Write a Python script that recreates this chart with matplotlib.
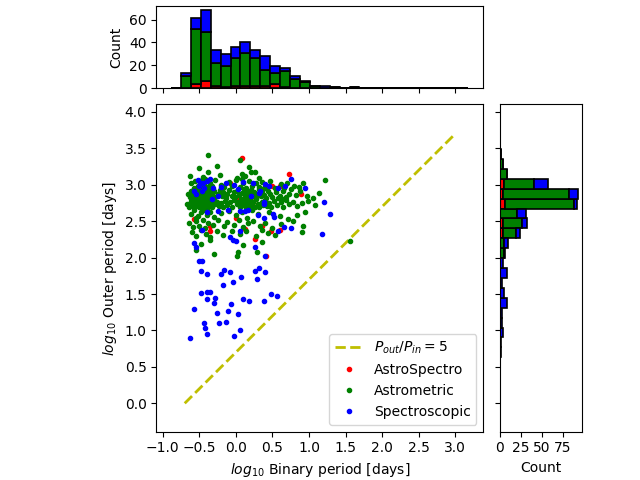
import numpy as np
import matplotlib
matplotlib.use('Agg')
import matplotlib.pyplot as plt

# scatter points (log10 P_in, log10 P_out)
astrospectro = [(0.08, 3.37), (0.73, 3.15), (0.50, 2.98), (0.60, 2.99), (0.89, 2.88), (-0.08, 3.03),
                (0.01, 2.79), (0.23, 2.76), (-0.58, 2.53), (-0.35, 2.43), (-0.35, 2.36), (0.12, 2.39),
                (0.35, 2.44), (0.48, 2.36), (0.60, 2.38), (0.26, 2.25), (0.41, 2.02), (-0.42, 2.68),
                (-0.55, 2.72), (-0.50, 2.85), (-0.45, 2.92), (0.15, 2.88), (-0.30, 2.75), (0.00, 2.55)]

astrometric = [
    (-0.38, 3.41), (0.06, 3.34), (-0.26, 3.26), (-0.50, 3.23), (0.18, 3.24),
    (-0.38, 3.18), (-0.22, 3.14), (0.20, 3.18), (0.09, 3.15), (0.02, 3.10), (-0.63, 3.12), (0.26, 3.17),
    (-0.45, 3.11), (0.13, 3.12), (0.32, 3.10),
    (-0.62, 3.02), (-0.56, 3.05), (-0.52, 2.98), (-0.47, 3.07), (-0.44, 3.00), (-0.40, 2.97), (-0.36, 3.03),
    (-0.33, 2.99), (-0.28, 3.06), (-0.20, 3.00), (-0.16, 2.97), (-0.10, 3.04), (-0.05, 2.99), (0.00, 3.06),
    (0.05, 2.97), (0.10, 3.02), (0.14, 2.96), (0.18, 3.05), (0.22, 2.99), (0.27, 3.03), (0.31, 2.97),
    (0.35, 3.04), (0.42, 2.98), (0.47, 3.05), (0.53, 2.96), (0.62, 3.01), (0.66, 2.96), (0.70, 3.03),
    (0.80, 2.99), (0.86, 2.97), (1.22, 3.06), (0.92, 3.02), (-0.58, 2.96), (-0.42, 3.08), (0.08, 3.08),
    (0.38, 2.96),
    (-0.66, 2.88), (-0.63, 2.83), (-0.61, 2.92), (-0.59, 2.86), (-0.57, 2.94), (-0.56, 2.82), (-0.55, 2.89),
    (-0.53, 2.84), (-0.52, 2.93), (-0.51, 2.87), (-0.50, 2.82), (-0.49, 2.90), (-0.48, 2.85), (-0.47, 2.94),
    (-0.46, 2.88), (-0.45, 2.83), (-0.44, 2.91), (-0.43, 2.86), (-0.42, 2.81), (-0.41, 2.93), (-0.40, 2.88),
    (-0.39, 2.84), (-0.38, 2.91), (-0.37, 2.86), (-0.36, 2.82), (-0.35, 2.94), (-0.34, 2.89), (-0.32, 2.85),
    (-0.30, 2.92), (-0.28, 2.83),
    (-0.25, 2.88), (-0.22, 2.93), (-0.19, 2.84), (-0.17, 2.90), (-0.14, 2.82), (-0.12, 2.87), (-0.09, 2.93),
    (-0.06, 2.85), (-0.03, 2.90), (-0.01, 2.83),
    (0.02, 2.92), (0.04, 2.86), (0.07, 2.81), (0.09, 2.89), (0.11, 2.94), (0.13, 2.84), (0.15, 2.90),
    (0.17, 2.82), (0.19, 2.87), (0.21, 2.93), (0.23, 2.85), (0.25, 2.90), (0.27, 2.82), (0.29, 2.88),
    (0.31, 2.94), (0.34, 2.84), (0.36, 2.91), (0.39, 2.86), (0.41, 2.82), (0.44, 2.92), (0.46, 2.87),
    (0.49, 2.83),
    (0.55, 2.90), (0.60, 2.85), (0.64, 2.92), (0.68, 2.83), (0.72, 2.88), (0.76, 2.94), (0.82, 2.86),
    (0.88, 2.91), (0.97, 2.84), (1.05, 2.82), (1.14, 2.89), (0.58, 2.82),
    (-0.67, 2.74), (-0.64, 2.70), (-0.62, 2.78), (-0.60, 2.72), (-0.58, 2.76), (-0.57, 2.69), (-0.55, 2.80),
    (-0.54, 2.73), (-0.53, 2.77), (-0.51, 2.70), (-0.50, 2.75), (-0.49, 2.79), (-0.48, 2.71), (-0.47, 2.76),
    (-0.46, 2.68), (-0.45, 2.73), (-0.44, 2.78), (-0.43, 2.70), (-0.42, 2.75), (-0.41, 2.80), (-0.40, 2.72),
    (-0.39, 2.77), (-0.38, 2.69), (-0.37, 2.74), (-0.36, 2.79), (-0.35, 2.71), (-0.34, 2.76), (-0.33, 2.70),
    (-0.31, 2.78), (-0.29, 2.73),
    (-0.26, 2.77), (-0.23, 2.71), (-0.20, 2.75), (-0.18, 2.69), (-0.15, 2.78), (-0.12, 2.72), (-0.08, 2.76),
    (-0.05, 2.70), (-0.02, 2.79),
    (0.01, 2.73), (0.03, 2.77), (0.06, 2.70), (0.08, 2.75), (0.10, 2.79), (0.12, 2.71), (0.14, 2.76),
    (0.16, 2.69), (0.18, 2.74), (0.20, 2.78), (0.22, 2.72), (0.24, 2.76), (0.26, 2.70), (0.28, 2.80),
    (0.30, 2.74), (0.32, 2.69), (0.35, 2.77), (0.37, 2.72), (0.40, 2.79), (0.43, 2.71), (0.45, 2.75),
    (0.48, 2.69),
    (0.52, 2.78), (0.56, 2.72), (0.61, 2.76), (0.65, 2.70), (0.69, 2.79), (0.73, 2.73), (0.78, 2.77),
    (0.84, 2.71), (0.90, 2.75), (0.99, 2.78), (1.08, 2.72), (0.63, 2.81),
    (-0.62, 2.60), (-0.57, 2.65), (-0.52, 2.57), (-0.48, 2.62), (-0.44, 2.66), (-0.40, 2.58), (-0.35, 2.63),
    (-0.30, 2.56), (-0.20, 2.61), (-0.10, 2.64), (0.00, 2.58), (0.08, 2.62), (0.15, 2.55), (0.22, 2.66),
    (0.30, 2.60), (0.45, 2.63), (0.60, 2.57), (0.71, 2.53), (0.83, 2.59), (0.95, 2.62), (-0.55, 2.55),
    (-0.64, 2.47), (-0.59, 2.42), (-0.55, 2.50), (-0.50, 2.44), (-0.45, 2.52), (-0.42, 2.41), (-0.38, 2.48),
    (-0.31, 2.45), (-0.25, 2.51), (-0.16, 2.43), (-0.12, 2.49), (-0.03, 2.45), (0.04, 2.52), (0.10, 2.42),
    (0.17, 2.47), (0.24, 2.50), (0.33, 2.43), (0.40, 2.48), (0.50, 2.41), (0.62, 2.46), (0.78, 2.50),
    (0.92, 2.44),
    (-0.60, 2.35), (-0.54, 2.30), (-0.48, 2.38), (-0.41, 2.33), (-0.36, 2.29), (-0.26, 2.36), (-0.18, 2.31),
    (-0.06, 2.37), (0.05, 2.32), (0.14, 2.36), (0.27, 2.30), (0.36, 2.38), (0.44, 2.34), (0.53, 2.31),
    (0.90, 2.35),
    (-0.36, 2.24), (-0.48, 2.19), (0.10, 2.17), (0.36, 2.22), (1.56, 2.23),
    (-0.54, 2.11), (0.03, 2.08), (0.02, 2.02), (0.29, 2.08), (-0.30, 2.05)]

spectroscopic = [
    (-0.49, 3.03), (-0.45, 3.03), (-0.50, 2.98), (-0.43, 2.95), (-0.47, 2.91), (-0.57, 2.92), (-0.35, 3.08),
    (-0.31, 2.96), (-0.24, 2.85), (-0.33, 2.80), (-0.14, 3.02), (-0.03, 3.00), (0.03, 2.94), (-0.11, 2.66),
    (0.06, 2.64), (0.12, 2.64), (0.16, 2.66), (0.24, 3.03), (0.31, 2.89), (0.33, 2.92), (0.40, 3.01),
    (0.38, 2.77), (0.38, 2.74), (0.58, 2.96), (0.67, 2.99), (0.76, 3.08), (0.95, 2.96), (0.51, 2.60),
    (0.52, 2.56), (0.38, 2.55), (0.66, 2.42), (0.76, 2.40), (0.58, 2.37), (-0.47, 2.38), (0.06, 2.37),
    (-0.08, 2.28), (-0.04, 2.24), (0.00, 2.23), (1.21, 2.76), (1.29, 2.60), (1.18, 2.33), (-0.58, 2.20),
    (-0.55, 2.15), (0.26, 2.15), (0.40, 2.02), (-0.40, 3.05), (-0.52, 3.06), (0.45, 2.99), (0.10, 3.04),
    (-0.20, 2.97), (-0.55, 2.87), (0.20, 2.84), (-0.40, 2.62), (0.30, 2.58), (-0.25, 2.64),
    (-0.51, 1.96), (-0.46, 1.95), (0.31, 1.86), (0.26, 1.81), (0.40, 1.80), (-0.48, 1.81), (-0.39, 1.78),
    (-0.20, 1.78), (-0.16, 1.83), (-0.08, 1.80), (0.07, 1.73), (-0.18, 1.62), (-0.04, 1.66), (0.29, 1.70),
    (-0.48, 1.51), (-0.39, 1.53), (-0.35, 1.53), (-0.40, 1.43), (-0.28, 1.44), (-0.30, 1.38), (-0.07, 1.36),
    (0.10, 1.43), (0.18, 1.40), (0.48, 1.50), (0.56, 1.47), (0.39, 1.40), (-0.58, 1.29), (-0.26, 1.24),
    (-0.11, 1.27), (0.03, 1.23), (-0.43, 1.10), (-0.42, 1.03), (-0.40, 0.95), (-0.23, 1.10), (-0.13, 1.11),
    (0.05, 1.01), (-0.63, 0.90), (-0.02, 0.93)]

# P_out / P_in = 5 line
line_x = [-0.7, 3.0]
line_y = [0.0, 3.7]

# stacked histogram counts (30 bins each)
xbin_lo, xbin_hi = -0.886, 3.18
hx_astrospectro = [0, 0, 4, 6, 2, 1, 2, 2, 2, 2, 4, 1, 0, 0, 0, 0, 0, 0, 0, 0, 0, 0, 0, 0, 0, 0, 0, 0, 0, 0]
hx_astrometric = [0, 11, 48, 43, 20, 18, 24, 29, 24, 14, 9, 14, 8, 5, 2, 0, 1, 0, 1, 0, 0, 0, 0, 0, 0, 0, 0, 0, 0, 0]
hx_spectroscopic = [0, 2, 9, 19, 11, 11, 10, 9, 7, 12, 6, 3, 3, 1, 0, 2, 0, 0, 0, 0, 0, 0, 0, 0, 0, 0, 0, 0, 0, 0]

ybin_lo, ybin_hi = -0.186, 3.90
hy_astrospectro = [0, 0, 0, 0, 0, 0, 0, 0, 0, 0, 0, 0, 0, 0, 0, 0, 0, 0, 4, 4, 0, 6, 4, 5, 0, 0, 0, 0, 0, 0]
hy_astrometric = [0, 0, 0, 0, 0, 0, 0, 0, 0, 0, 0, 0, 0, 0, 0, 0, 5, 5, 15, 22, 21, 83, 79, 36, 9, 4, 2, 0, 0, 0]
hy_spectroscopic = [0, 0, 0, 0, 0, 0, 1, 1, 4, 3, 3, 9, 5, 3, 9, 4, 1, 5, 5, 7, 10, 3, 10, 16, 0, 0, 0, 0, 0, 0]

colors = ['r', 'g', 'b']
labels = ['AstroSpectro', 'Astrometric', 'Spectroscopic']

fig = plt.figure(figsize=(6.4, 4.8), dpi=100)
ax = fig.add_axes([0.2442, 0.1006, 0.5109, 0.6821])
ax_histx = fig.add_axes([0.2442, 0.8163, 0.5109, 0.1702], sharex=ax)
ax_histy = fig.add_axes([0.7809, 0.1006, 0.1280, 0.6821], sharey=ax)

ax.plot(line_x, line_y, '--', color='y', lw=2, label=r'$P_{out}/P_{in} = 5$')
for pts, c, lab in zip([astrospectro, astrometric, spectroscopic], colors, labels):
    px, py = np.array(pts).T
    ax.plot(px, py, '.', color=c, label=lab)
ax.set_xlabel(r'$log_{10}$ Binary period [days]')
ax.set_ylabel(r'$log_{10}$ Outer period [days]')
ax.legend(loc='lower right')

xbins = np.linspace(xbin_lo, xbin_hi, 31)
xc = 0.5 * (xbins[1:] + xbins[:-1])
ax_histx.hist([xc, xc, xc], bins=xbins, weights=[hx_astrospectro, hx_astrometric, hx_spectroscopic],
              stacked=True, color=colors, edgecolor='k', linewidth=1.2)
ax_histx.set_ylabel('Count')
ax_histx.set_yticks([0, 20, 40, 60])
ax_histx.tick_params(axis='x', labelbottom=False)

ybins = np.linspace(ybin_lo, ybin_hi, 31)
yc = 0.5 * (ybins[1:] + ybins[:-1])
ax_histy.hist([yc, yc, yc], bins=ybins, weights=[hy_astrospectro, hy_astrometric, hy_spectroscopic],
              stacked=True, color=colors, edgecolor='k', linewidth=1.2, orientation='horizontal')
ax_histy.set_xlabel('Count')
ax_histy.set_xticks([0, 25, 50, 75])
ax_histy.tick_params(axis='y', labelleft=False)

ax.set_xlim(-1.089, 3.383)
ax.set_ylim(-0.39, 4.105)
ax.set_xticks([-1.0, -0.5, 0.0, 0.5, 1.0, 1.5, 2.0, 2.5, 3.0])
ax.set_yticks([0.0, 0.5, 1.0, 1.5, 2.0, 2.5, 3.0, 3.5, 4.0])

fig.savefig('out.png', dpi=100)
